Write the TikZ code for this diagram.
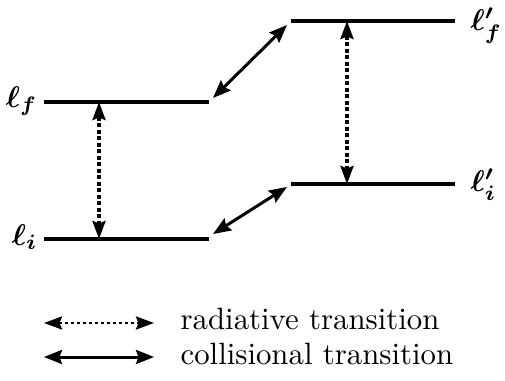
\documentclass[tikz,border=0pt]{standalone}
\usetikzlibrary{arrows.meta}
\begin{document}
\begin{tikzpicture}[x=1pt,y=-1pt,
  level/.style={line width=3.2pt},
  radarrow/.style={line width=3.4pt,dash pattern=on 4pt off 2.5pt,{Stealth[length=18pt,width=13pt,inset=2.5pt]}-{Stealth[length=18pt,width=13pt,inset=2.5pt]}},
  colarrow/.style={line width=3pt,{Stealth[length=18pt,width=14pt,inset=2.5pt]}-{Stealth[length=18pt,width=14pt,inset=2.5pt]}},
  lab/.style={inner sep=0pt,scale=3,font=\boldmath},
  legtext/.style={inner sep=0pt,scale=3.08,anchor=base west}]
\useasboundingbox (0,0) rectangle (505,380);
% levels
\coordinate (lfA) at (44,102); \coordinate (lfB) at (209,102);
\coordinate (liA) at (44,239); \coordinate (liB) at (209,239);
\coordinate (pfA) at (291,21); \coordinate (pfB) at (455,21);
\coordinate (piA) at (291,184); \coordinate (piB) at (455,184);
\draw[level] (lfA) -- (lfB);
\draw[level] (liA) -- (liB);
\draw[level] (pfA) -- (pfB);
\draw[level] (piA) -- (piB);
% labels
\node[lab,anchor=east] (Llf) at (38,101) {$\ell_f$};
\node[lab,anchor=east] (Lli) at (38,237) {$\ell_i$};
\node[lab,anchor=west] (Lpf) at (470,26) {$\ell'_f$};
\node[lab,anchor=west] (Lpi) at (470,185) {$\ell'_i$};
% radiative transitions
\coordinate (r1a) at (99,102); \coordinate (r1b) at (99,239);
\coordinate (r2a) at (347,21); \coordinate (r2b) at (347,184);
\draw[radarrow] (r1a) -- (r1b);
\draw[radarrow] (r2a) -- (r2b);
% collisional transitions
\coordinate (c1a) at (213,98); \coordinate (c1b) at (287,25);
\coordinate (c2a) at (213,234); \coordinate (c2b) at (287,187);
\draw[colarrow] (c1a) -- (c1b);
\draw[colarrow] (c2a) -- (c2b);
% legend
\coordinate (g1a) at (44,323); \coordinate (g1b) at (154,323);
\coordinate (g2a) at (44,357); \coordinate (g2b) at (154,357);
\draw[radarrow,line width=2.7pt,dash pattern=on 3.5pt off 2.5pt] (g1a) -- (g1b);
\draw[colarrow] (g2a) -- (g2b);
\node[legtext] (t1) at (180,329) {radiative transition};
\node[legtext] (t2) at (180,364) {collisional transition};
\end{tikzpicture}
\end{document}
